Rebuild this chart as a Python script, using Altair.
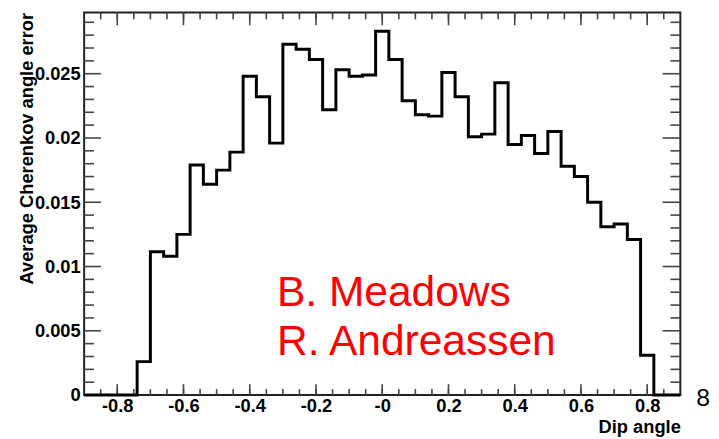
import altair as alt
import pandas as pd

# ---- data ----
bin_lo = -0.9
bin_width = 0.04
values = [0, 0, 0, 0, 0.0026, 0.01115, 0.0108, 0.0125, 0.0179, 0.0164,
          0.0175, 0.0189, 0.0248, 0.0232, 0.0196, 0.0273, 0.0269, 0.0261,
          0.0222, 0.0253, 0.0248, 0.0249, 0.0283, 0.0261, 0.0229, 0.0218,
          0.0217, 0.0251, 0.0232, 0.0201, 0.0203, 0.0243, 0.0195, 0.0202,
          0.0188, 0.0205, 0.0178, 0.0170, 0.0150, 0.0131, 0.0133, 0.0121,
          0.0031, 0, 0]

x_major = [-0.8, -0.6, -0.4, -0.2, 0.0, 0.2, 0.4, 0.6, 0.8]
x_minor = [-0.85, -0.8, -0.75, -0.7, -0.65, -0.6, -0.55, -0.5, -0.45, -0.4,
           -0.35, -0.3, -0.25, -0.2, -0.15, -0.1, -0.05, 0.0, 0.05, 0.1,
           0.15, 0.2, 0.25, 0.3, 0.35, 0.4, 0.45, 0.5, 0.55, 0.6, 0.65,
           0.7, 0.75, 0.8, 0.85]
y_major = [0, 0.005, 0.01, 0.015, 0.02, 0.025]
y_minor = [0.001, 0.002, 0.003, 0.004, 0.006, 0.007, 0.008, 0.009, 0.011,
           0.012, 0.013, 0.014, 0.016, 0.017, 0.018, 0.019, 0.021, 0.022,
           0.023, 0.024, 0.026, 0.027, 0.028, 0.029]
x_domain = [-0.9, 0.9]
y_domain = [0, 0.02977]
x_title = "Dip angle"
y_title = "Average Cherenkov angle error"
authors = ["B. Meadows", "R. Andreassen"]
page_number = ["8"]

# ---- build tables ----
edges = [bin_lo + bin_width * i for i in range(len(values) + 1)]
hist = pd.DataFrame({"x": edges, "y": values + [values[-1]]})

W, H = 603, 387
FONT = "Liberation Sans"
FS = 18.5
tick_color = "#444444"

xs = alt.Scale(domain=x_domain, nice=False, zero=False)
ys = alt.Scale(domain=y_domain, nice=False, zero=False)

xaxis = alt.Axis(
    values=x_major, ticks=False, domain=False, grid=False,
    labelExpr="abs(datum.value) < 1e-9 ? '-0' : (datum.value < 0 ? '-' + format(-datum.value, '.1f') : format(datum.value, '.1f'))",
    labelFont=FONT, labelFontSize=FS, labelFontWeight="bold", labelColor="black",
    labelPadding=2, labelFlush=False, labelOverlap=False,
    title=x_title, titleFont=FONT, titleFontSize=FS, titleFontWeight="bold",
    titleColor="black", titleAnchor="end", titleAlign="right",
    titleX=W, titleY=38, titleBaseline="alphabetic",
)
yaxis = alt.Axis(
    values=y_major, ticks=False, domain=False, grid=False, format="~g",
    labelFont=FONT, labelFontSize=FS, labelFontWeight="bold", labelColor="black",
    labelPadding=4, labelFlush=False, labelOverlap=False,
    title=y_title, titleFont=FONT, titleFontSize=FS, titleFontWeight="bold",
    titleColor="black", titleAngle=-90, titleAlign="right",
    titleX=-52, titleY=0, titleBaseline="alphabetic", titleAnchor="end",
)

def X(field):
    return alt.X(field, type="quantitative", scale=xs, axis=xaxis)

def Y(field):
    return alt.Y(field, type="quantitative", scale=ys, axis=yaxis)

line = alt.Chart(hist).mark_line(
    interpolate="step-after", color="black", strokeWidth=3
).encode(x=X("x"), y=Y("y"))

def yticks(vals, length, right):
    d = pd.DataFrame({"v": vals})
    if right:
        enc = dict(x=alt.value(W), x2=alt.value(W - length))
    else:
        enc = dict(x=alt.value(0), x2=alt.value(length))
    return alt.Chart(d).mark_rule(color=tick_color, strokeWidth=1.6).encode(
        y=Y("v"), **enc)

def xticks(vals, length, top):
    d = pd.DataFrame({"v": vals})
    if top:
        enc = dict(y=alt.value(0), y2=alt.value(length))
    else:
        enc = dict(y=alt.value(H), y2=alt.value(H - length))
    return alt.Chart(d).mark_rule(color=tick_color, strokeWidth=1.6).encode(
        x=X("v"), **enc)

ticks = [
    yticks(y_minor, 10, False), yticks(y_major, 17, False),
    yticks(y_minor, 10, True), yticks(y_major, 18, True),
    xticks(x_minor, 6, False), xticks(x_major, 11, False),
    xticks(x_minor, 7, True), xticks(x_major, 13, True),
]

def note(text, x, y, size, color):
    return alt.Chart(pd.DataFrame({"t": [text]})).mark_text(
        align="left", baseline="alphabetic", font=FONT, fontSize=size, color=color
    ).encode(text="t:N", x=alt.value(x), y=alt.value(y))

auth1 = note(authors[0], 195, 297, 43, "#ff0000")
auth2 = note(authors[1], 195, 347, 43, "#ff0000")
pnum = note(page_number[0], 619, 398, 25, "black")

chart = alt.layer(*ticks, line, auth1, auth2, pnum).properties(
    width=W, height=H,
    autosize=alt.AutoSizeParams(type="none"),
    padding={"left": 77, "top": 2, "right": 31, "bottom": 42},
    background="white",
).configure_view(stroke="#222222", strokeWidth=2)

chart.save("out.html", embed_options={"renderer": "svg", "actions": False})
